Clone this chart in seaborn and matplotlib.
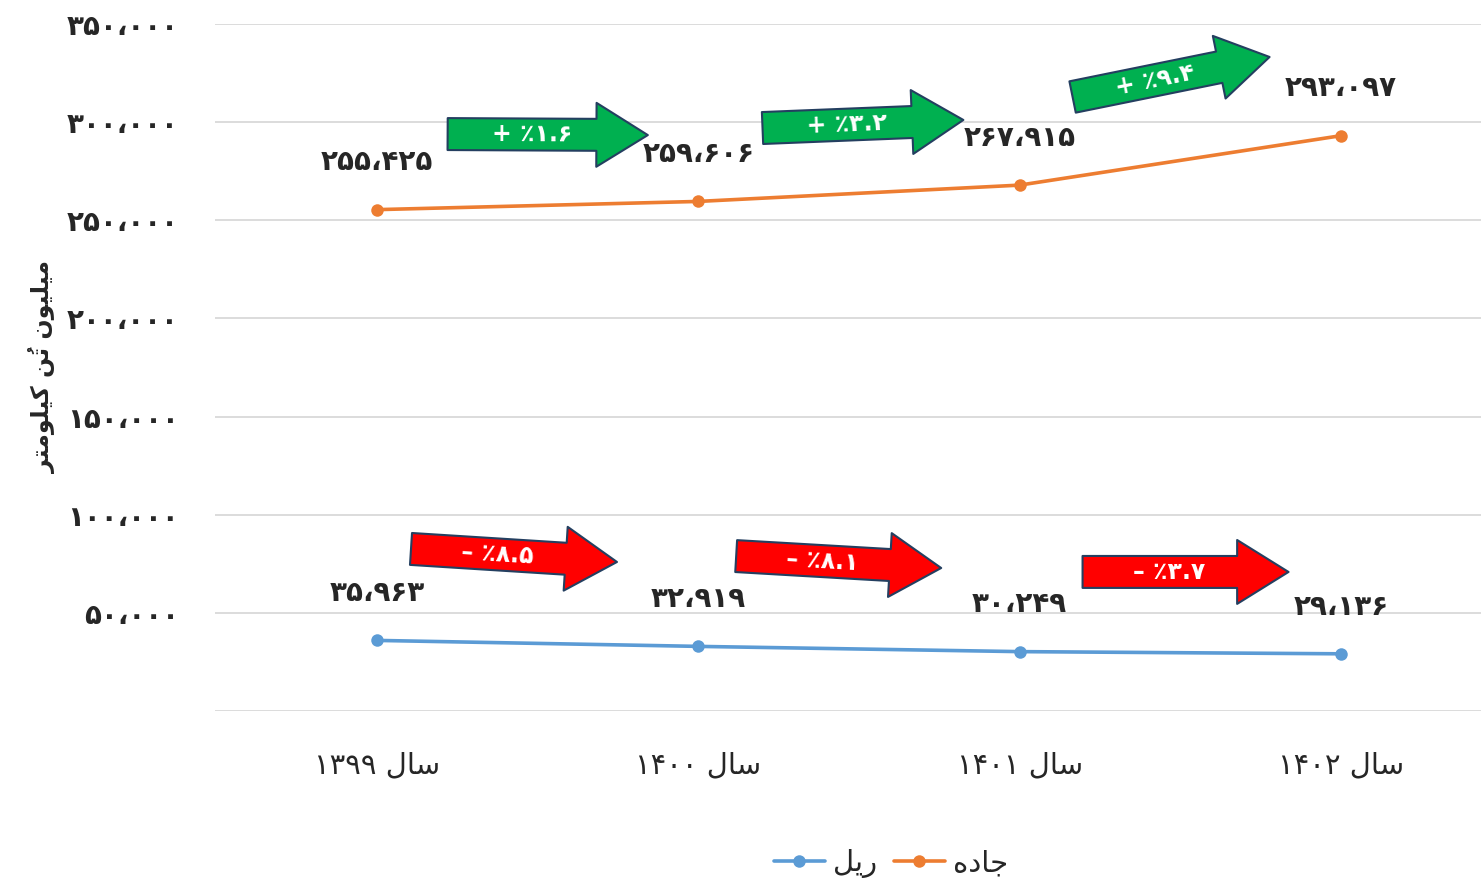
import matplotlib
matplotlib.use("Agg")
import numpy as np
import pandas as pd
import seaborn as sns
import matplotlib.pyplot as plt
from matplotlib.patches import ArrowStyle

# Persian text, written as presentation forms in visual (left-to-right) order
SAL = "\uFEDD\uFE8E\uFEB3"                      # سال
RAIL = "\uFEDE\uFEF3\uFEAD"                      # ریل
ROAD = "\uFEE9\uFEA9\uFE8E\uFE9F"                # جاده
YLABEL = ("\uFEAE\uFE98\uFEE3\uFEEE\uFEE0\uFEF4\uFB90" + " "
          + "\uFEE6\u064F\uFE97" + " "
          + "\uFEE5\uFEEE\uFEF4\uFEE0\uFEF4\uFEE3")  # میلیون تُن کیلومتر

FA = str.maketrans("0123456789,", "۰۱۲۳۴۵۶۷۸۹،")


def fa(s):
    return s.translate(FA)


years = ["1399", "1400", "1401", "1402"]
road = [255425, 259606, 267915, 293097]
rail = [35963, 32919, 30249, 29136]
road_change = ["1.6", "3.2", "9.4"]
rail_change = ["8.5", "8.1", "3.7"]
y_ticks = [0, 50000, 100000, 150000, 200000, 250000, 300000, 350000]

# arrow placement relative to the segment: (x start, dy start, x end, dy end)
road_arrows = [(0.22, 38500, 0.843, 33800),
               (0.20, 37400, 0.825, 33200),
               (0.165, 44900, 0.778, 40100)]
rail_arrows = [(0.106, 46600, 0.747, 43000),
               (0.118, 46000, 0.756, 42600),
               (0.196, 40600, 0.837, 41700)]

x_labels = [fa(y) + " " + SAL for y in years]
df = pd.DataFrame({
    "year": x_labels * 2,
    "value": rail + road,
    "mode": [RAIL] * 4 + [ROAD] * 4,
})

sns.set_style("white")
plt.rcParams["font.family"] = ["DejaVu Sans"]

fig = plt.figure(figsize=(14.81, 8.83), dpi=100)
ax = fig.add_axes([215 / 1481, 1 - 711 / 883, 1266 / 1481, 687 / 883])

sns.lineplot(data=df, x="year", y="value", hue="mode",
             palette={RAIL: "#5B9BD5", ROAD: "#ED7D31"},
             marker="o", markersize=9, markeredgewidth=0,
             linewidth=2.6, legend=False, ax=ax)

ax.set_xlim(-0.504, 3.436)
ax.set_ylim(0, 350000)
ax.set_yticks(y_ticks)
ax.set_yticklabels([""] + [fa(f"{v:,}") for v in y_ticks[1:]],
                   fontsize=20, fontweight="bold")
ax.set_xticks(range(4))
ax.set_xticklabels(x_labels, fontsize=21)
ax.tick_params(axis="y", length=0, pad=26)
ax.tick_params(axis="x", length=0, pad=29)
ax.grid(axis="y", color="#D9D9D9", linewidth=1.3)
ax.grid(axis="x", visible=False)
for s in ax.spines.values():
    s.set_visible(False)
ax.set_xlabel("")
ax.set_ylabel(YLABEL, fontsize=17, fontweight="bold", labelpad=8)

# value labels
for vals in (road, rail):
    for i, v in enumerate(vals):
        ax.annotate(fa(f"{v:,}"), (i, v), xytext=(0, 34), textcoords="offset points",
                    ha="center", va="center", fontsize=20, fontweight="bold")


def draw_arrows(vals, places, labels, color, sign):
    style = ArrowStyle("simple", head_length=3.7, head_width=4.6, tail_width=2.3)
    for i, (a0, d0, a1, d1) in enumerate(places):
        tail = (i + a0, vals[i] + d0)
        tip = (i + a1, vals[i + 1] + d1)
        ax.annotate("", xy=tip, xytext=tail,
                    arrowprops=dict(arrowstyle=style, mutation_scale=10,
                                    fc=color, ec="#243F60", lw=1.5,
                                    shrinkA=0, shrinkB=0))
        p0 = ax.transData.transform(tail)
        p1 = ax.transData.transform(tip)
        ang = np.degrees(np.arctan2(p1[1] - p0[1], p1[0] - p0[0]))
        mx = tail[0] + 0.42 * (tip[0] - tail[0])
        my = tail[1] + 0.42 * (tip[1] - tail[1])
        ax.text(mx, my, sign + " ٪" + fa(labels[i]), color="white",
                fontsize=17, fontweight="bold", ha="center", va="center",
                rotation=ang, rotation_mode="anchor")


draw_arrows(road, road_arrows, road_change, "#00B050", "+")
draw_arrows(rail, rail_arrows, rail_change, "#FF0000", "–")

fig.legend(handles=[ax.lines[0], ax.lines[1]], labels=[RAIL, ROAD],
           loc="center", bbox_to_anchor=(891 / 1481, 1 - 864 / 883),
           ncol=2, frameon=False, fontsize=21, handlelength=1.75,
           handletextpad=0.3, columnspacing=0.55)

fig.savefig("out.png", dpi=100)
